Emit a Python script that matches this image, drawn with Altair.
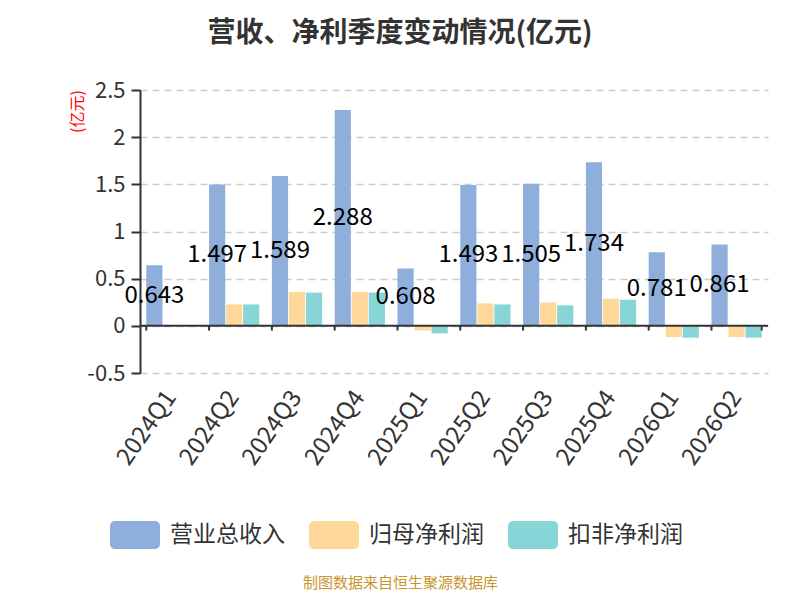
import altair as alt
import pandas as pd

quarters = ["2024Q1", "2024Q2", "2024Q3", "2024Q4", "2025Q1",
            "2025Q2", "2025Q3", "2025Q4", "2026Q1", "2026Q2"]
series_names = ["营业总收入", "归母净利润", "扣非净利润"]
revenue = [0.643, 1.497, 1.589, 2.288, 0.608, 1.493, 1.505, 1.734, 0.781, 0.861]
net_profit = [0.004, 0.227, 0.360, 0.360, -0.049, 0.238, 0.248, 0.287, -0.119, -0.119]
deducted_profit = [0.003, 0.227, 0.353, 0.353, -0.080, 0.227, 0.217, 0.276, -0.126, -0.126]
colors = ["#8EAEDB", "#FFD899", "#88D5D8"]
y_ticks = [-0.5, 0, 0.5, 1, 1.5, 2, 2.5]

FONT = "Noto Sans CJK SC"

rows = []
for i, q in enumerate(quarters):
    for name, vals in zip(series_names, [revenue, net_profit, deducted_profit]):
        rows.append({"quarter": q, "series": name, "value": vals[i]})
df = pd.DataFrame(rows)

x_enc = alt.X("quarter:N", sort=quarters,
              scale=alt.Scale(paddingInner=0.2, paddingOuter=0.1),
              axis=alt.Axis(title="制图数据来自恒生聚源数据库", titleColor="#C9952D",
                            titleFontSize=15, titleFontWeight="normal", titleFont=FONT,
                            titleX=260, titleY=202, titleAlign="center", titleBaseline="top",
                            domain=False, ticks=False, labelAngle=-55, labelAlign="right",
                            labelBaseline="middle", labelFontSize=24, labelColor="#333333",
                            labelFont=FONT, labelPadding=20))
y_enc = alt.Y("value:Q", scale=alt.Scale(domain=[-0.5, 2.5], nice=False, zero=False),
              axis=alt.Axis(values=y_ticks, labelExpr="'' + datum.value",
                            title="(亿元)", titleColor="#FF0000", titleFontSize=16,
                            titleFontWeight="normal", titleFont=FONT, titleAngle=-90,
                            titleX=-63, titleY=21, titleAlign="center", titleBaseline="middle",
                            grid=True, gridDash=[7, 5], gridColor="#CCCCCC", gridWidth=1.5,
                            domainColor="#333333", domainWidth=2, tickColor="#333333",
                            tickWidth=2, tickSize=9, labelFontSize=22, labelColor="#333333",
                            labelFont=FONT, labelPadding=6))
xoff = alt.XOffset("series:N", sort=series_names, scale=alt.Scale(paddingInner=0.05))
color_enc = alt.Color("series:N", sort=series_names,
                      scale=alt.Scale(domain=series_names, range=colors),
                      legend=alt.Legend(orient="none", legendX=-30, legendY=420,
                                        direction="horizontal", title=None,
                                        symbolType="M-0.8,-0.56 L0.8,-0.56 A0.2,0.2 0 0 1 1,-0.36 L1,0.36 A0.2,0.2 0 0 1 0.8,0.56 L-0.8,0.56 A0.2,0.2 0 0 1 -1,0.36 L-1,-0.36 A0.2,0.2 0 0 1 -0.8,-0.56 Z",
                                        symbolSize=2500, symbolStrokeWidth=0,
                                        symbolOpacity=1, labelFontSize=23,
                                        labelColor="#333333", labelFont=FONT,
                                        labelOffset=10, columnPadding=24, padding=0))

base = alt.Chart(df)
bars = base.mark_bar().encode(x=x_enc, xOffset=xoff, y=y_enc, color=color_enc)

labels = base.transform_filter(alt.datum.series == "营业总收入").transform_calculate(
    mid="datum.value / 2"
).mark_text(fontSize=24, font=FONT, color="#000000", baseline="middle", align="center").encode(
    x=alt.X("quarter:N", sort=quarters), xOffset=xoff, y=alt.Y("mid:Q"),
    text=alt.Text("value:Q", format=".3f"))

zero_line = alt.Chart(pd.DataFrame({"v": [0]})).mark_rule(color="#333333", strokeWidth=2).encode(
    y=alt.Y("v:Q"))

tick_df = pd.DataFrame({"quarter": quarters})
ticks_start = alt.Chart(tick_df).mark_rule(color="#333333", strokeWidth=2).encode(
    x=alt.X("quarter:N", sort=quarters, bandPosition=0),
    y=alt.datum(0), y2=alt.datum(-0.05))
ticks_end = alt.Chart(tick_df.tail(1)).mark_rule(color="#333333", strokeWidth=2).encode(
    x=alt.X("quarter:N", sort=quarters, bandPosition=1),
    y=alt.datum(0), y2=alt.datum(-0.05))

chart = alt.layer(bars, zero_line, ticks_start, ticks_end, labels).properties(
    width=628, height=283,
    autosize=alt.AutoSizeParams(type="none"),
    padding={"left": 132, "top": 82, "right": 24, "bottom": 219},
    title=alt.TitleParams("营收、净利季度变动情况(亿元)", anchor="middle", frame="group",
                          dx=-54, offset=31, fontSize=28, fontWeight="bold",
                          color="#333333", font=FONT),
).configure(background="white", view=alt.ViewConfig(stroke=None))

chart.save("out.html", embed_options={"renderer": "svg", "actions": False})
